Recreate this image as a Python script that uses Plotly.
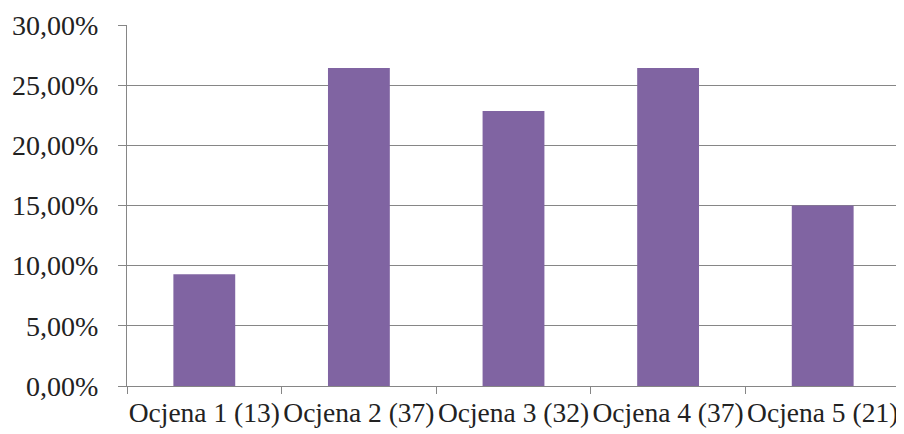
import plotly.graph_objects as go

# data
grades = ["Ocjena 1", "Ocjena 2", "Ocjena 3", "Ocjena 4", "Ocjena 5"]
counts = [13, 37, 32, 37, 21]
shares = [0.0929, 0.2643, 0.2286, 0.2643, 0.1500]
y_ticks = [0.0, 0.05, 0.10, 0.15, 0.20, 0.25, 0.30]

labels = [f"{g} ({c})" for g, c in zip(grades, counts)]

axis_grey = "#868686"
font_face = "Liberation Serif, Times New Roman, serif"

fig = go.Figure()
fig.add_trace(go.Bar(
    x=labels, y=shares,
    marker=dict(color="#8064A2", line=dict(width=0)),
    showlegend=False,
))

# page body has an 8px margin, so the figure is a bit smaller than the window
fig.update_layout(
    width=896, height=426,
    margin=dict(l=119, r=4, t=17, b=48),
    paper_bgcolor="white", plot_bgcolor="white",
    bargap=0.6,
    separators=", ",
    font=dict(family=font_face, size=28, color="#222222"),
)
fig.update_xaxes(
    type="category",
    automargin=False,
    tickangle=0,
    tickson="boundaries",
    ticks="outside", ticklen=7, tickcolor=axis_grey, tickwidth=1,
    showline=True, linecolor=axis_grey, linewidth=1,
    showgrid=False,
    tickfont=dict(size=27.5),
    ticklabelstandoff=2,
)
fig.update_yaxes(
    range=[0, 0.30],
    automargin=False,
    tickvals=y_ticks, tickformat=".2%",
    ticks="outside", ticklen=8, tickcolor=axis_grey, tickwidth=1,
    showline=True, linecolor=axis_grey, linewidth=1,
    showgrid=True, gridcolor=axis_grey, gridwidth=1,
    zeroline=False,
    tickfont=dict(size=28),
    ticklabelstandoff=14,
)

fig.write_html("out.html")
